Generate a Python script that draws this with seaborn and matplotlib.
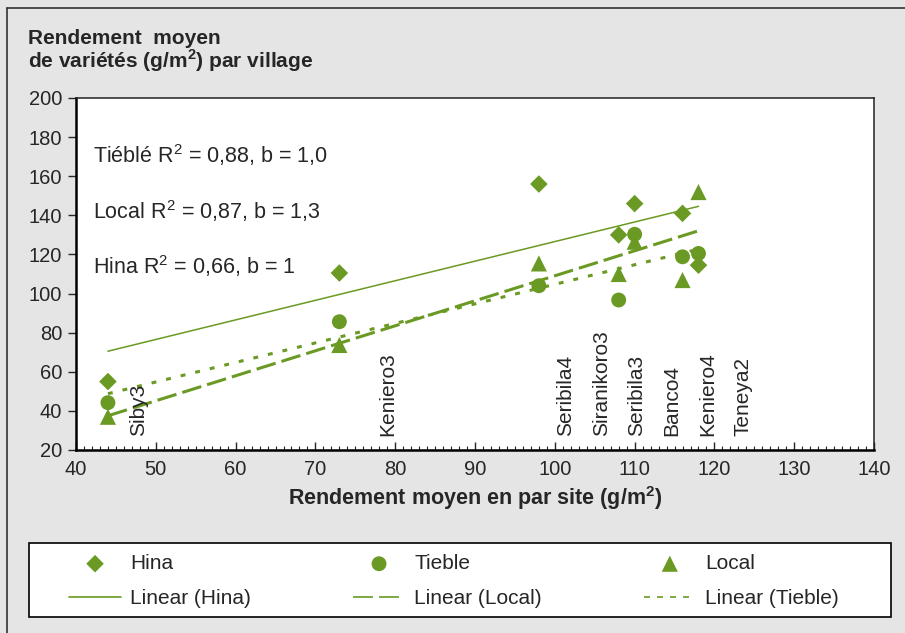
import numpy as np
import pandas as pd
import seaborn as sns
import matplotlib.pyplot as plt
from matplotlib.lines import Line2D
from matplotlib.patches import Rectangle
from matplotlib.ticker import MultipleLocator

# mean yield per site (x) for each village
site_mean = [44, 73, 98, 108, 110, 116, 118]
hina = [55, 110.5, 156, 130, 146, 141, 114.5]
tieble = [44.2, 85.6, 104, 96.7, 130.3, 118.8, 120.5]
local = [37, 73.7, 115.4, 110, 126.5, 106.9, 151.9]

villages = ['Siby3', 'Keniero3', 'Seribila4', 'Siranikoro3', 'Seribila3', 'Banco4', 'Keniero4', 'Teneya2']
village_x = [47.8, 79, 101.3, 105.9, 110.3, 114.6, 119.2, 123.6]

notes = ['Tiéblé R$^2$ = 0,88, b = 1,0', 'Local R$^2$ = 0,87, b = 1,3', 'Hina R$^2$ = 0,66, b = 1']
notes_y = [171, 142, 114]

green = '#6a9a23'

df = pd.DataFrame({'x': site_mean, 'Hina': hina, 'Tieble': tieble, 'Local': local})

sns.set_style("white")
plt.rcParams['font.family'] = ['Liberation Sans', 'DejaVu Sans']
plt.rcParams['mathtext.fontset'] = 'custom'
plt.rcParams['mathtext.rm'] = 'Liberation Sans'
plt.rcParams['mathtext.bf'] = 'Liberation Sans:bold'

fig = plt.figure(figsize=(9.05, 6.33), dpi=100, facecolor='#e5e5e5')
ax = fig.add_axes([0.084, 0.2891, 0.8818, 0.5561])
ax.set_facecolor('white')

# points
sns.scatterplot(data=df, x='x', y='Hina', marker='D', s=80, color=green, edgecolor='none', ax=ax, label='Hina')
sns.scatterplot(data=df, x='x', y='Tieble', marker='o', s=115, color=green, edgecolor='none', ax=ax, label='Tieble')
sns.scatterplot(data=df, x='x', y='Local', marker='^', s=135, color=green, edgecolor='none', ax=ax, label='Local')

# linear trend lines
sns.regplot(data=df, x='x', y='Hina', scatter=False, ci=None, ax=ax, color=green,
            label='Linear (Hina)', line_kws={'lw': 1.1})
sns.regplot(data=df, x='x', y='Local', scatter=False, ci=None, ax=ax, color=green,
            label='Linear (Local)', line_kws={'lw': 2.2, 'dashes': (6.5, 2)})
sns.regplot(data=df, x='x', y='Tieble', scatter=False, ci=None, ax=ax, color=green,
            label='Linear (Tieble)', line_kws={'lw': 2.2, 'dashes': (1.6, 3.3)})

ax.set_xlim(40, 140)
ax.set_ylim(20, 200)
ax.xaxis.set_major_locator(MultipleLocator(10))
ax.xaxis.set_minor_locator(MultipleLocator(1))
ax.yaxis.set_major_locator(MultipleLocator(20))
ax.tick_params(axis='x', which='major', direction='in', length=6, width=1, pad=7, labelsize=14.5, bottom=True)
ax.tick_params(axis='x', which='minor', direction='in', length=3, width=0.8, bottom=True)
ax.tick_params(axis='y', which='major', direction='out', length=6, width=1, pad=4, labelsize=14.5, left=True)

for side in ['left', 'bottom']:
    ax.spines[side].set_linewidth(1.8)
    ax.spines[side].set_color('black')
for side in ['top', 'right']:
    ax.spines[side].set_linewidth(1.1)
    ax.spines[side].set_color('#222222')

ax.set_xlabel(r'Rendement moyen en par site (g/m$^{\mathbf{2}}$)', fontsize=15.5, fontweight='bold', labelpad=4)
ax.set_ylabel('')

# village names
for name, vx in zip(villages, village_x):
    ax.text(vx, 27, name, rotation=90, ha='center', va='bottom', fontsize=15)

# regression notes
for txt, ny in zip(notes, notes_y):
    ax.text(42.1, ny, txt, ha='left', va='center', fontsize=15.5)

# y title in the top-left corner
fig.text(28 / 905, 1 - 38 / 633, 'Rendement  moyen', fontsize=15, fontweight='bold', va='center')
fig.text(28 / 905, 1 - 61 / 633, r'de variétés (g/m$^{\mathbf{2}}$) par village', fontsize=15,
         fontweight='bold', va='center')

# legend below the plot: white box + frameless legend inside
fig.add_artist(Rectangle((29 / 905, 1 - 617 / 633), 862 / 905, 74 / 633, transform=fig.transFigure,
                         facecolor='white', edgecolor='black', lw=1.2))
handles, labels = ax.get_legend_handles_labels()
hmap = dict(zip(labels, handles))
order = ['Hina', 'Linear (Hina)', 'Tieble', 'Linear (Local)', 'Local', 'Linear (Tieble)']
if ax.get_legend() is not None:
    ax.get_legend().remove()
leg = fig.legend([hmap[k] for k in order], order, loc='center left', ncol=3,
                 bbox_to_anchor=(69 / 905, 1 - 581 / 633), frameon=False,
                 fontsize=15, handlelength=2.5, handletextpad=0.43, columnspacing=4.9,
                 borderpad=0, borderaxespad=0, labelspacing=0.75)
leg_dashes = {'Linear (Local)': (12, 3.6), 'Linear (Tieble)': (3.6, 4.2)}
for hd, txt in zip(leg.legend_handles, leg.get_texts()):
    if isinstance(hd, Line2D):
        hd.set_linewidth(1.2)
        if txt.get_text() in leg_dashes:
            hd.set_dashes(leg_dashes[txt.get_text()])

# outer frame of the figure (left and top edges)
fig.add_artist(Line2D([6.5 / 905, 6.5 / 905], [0, 1 - 8.3 / 633], transform=fig.transFigure, color='#333333', lw=1.2))
fig.add_artist(Line2D([6.5 / 905, 1], [1 - 8.3 / 633, 1 - 8.3 / 633], transform=fig.transFigure, color='#333333', lw=1.2))

fig.savefig('out.png', dpi=100, facecolor=fig.get_facecolor())
